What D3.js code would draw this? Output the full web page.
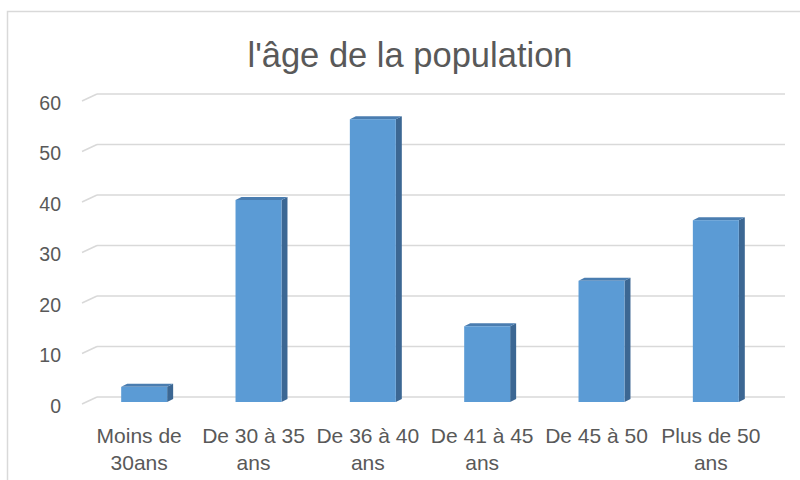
<!DOCTYPE html>
<html>
<head>
<meta charset="utf-8">
<script src="https://cdn.jsdelivr.net/npm/d3@7"></script>
<style>
  html, body { margin: 0; padding: 0; background: #fff; }
  svg { display: block; }
  text { font-family: "Liberation Sans", Arial, sans-serif; fill: #595959; }
</style>
</head>
<body>
<svg id="chart" width="800" height="480"></svg>
<script>
const title = "l'âge de la population";
const categories = ["Moins de\n30ans", "De 30 à 35\nans", "De 36 à 40\nans", "De 41 à 45\nans", "De 45 à 50", "Plus de 50\nans"];
const values = [3, 40, 56, 15, 24, 36];
const yTicks = [0, 10, 20, 30, 40, 50, 60];

const svg = d3.select("#chart");

// chart frame
svg.append("rect")
  .attr("x", 7.5).attr("y", 11.5)
  .attr("width", 800).attr("height", 480)
  .attr("fill", "#fff").attr("stroke", "#D9D9D9").attr("stroke-width", 1.5);

// title
svg.append("text")
  .attr("x", 410).attr("y", 67)
  .attr("text-anchor", "middle")
  .style("font-size", "34.5px")
  .text(title);

// scales
const y = d3.scaleLinear().domain([0, 60]).range([402, 99]);
const yBack = d3.scaleLinear().domain([0, 60]).range([397, 94]);
const x = d3.scaleBand().domain(categories).range([87, 773])
  .paddingInner(0.598).paddingOuter(0.299);

const depth = { dx: 6, dy: -3 };

// gridlines on back wall and side slants
const grid = svg.append("g");
yTicks.forEach(t => {
  grid.append("line")
    .attr("x1", 97).attr("x2", 785)
    .attr("y1", yBack(t)).attr("y2", yBack(t))
    .attr("stroke", "#D9D9D9").attr("stroke-width", 1.5);
  grid.append("line")
    .attr("x1", 82).attr("x2", 97)
    .attr("y1", yBack(t) + 7).attr("y2", yBack(t))
    .attr("stroke", "#D9D9D9").attr("stroke-width", 1.5);
});

// y axis labels
const yAxis = svg.append("g");
yTicks.forEach(t => {
  yAxis.append("text")
    .attr("x", 61).attr("y", yBack(t) + 8.5)
    .attr("text-anchor", "end")
    .attr("dominant-baseline", "central")
    .style("font-size", "19.5px")
    .text(d3.format("d")(t));
});

// bars (3D columns)
const bars = svg.append("g");
categories.forEach((c, i) => {
  const x0 = x(c), w = x.bandwidth();
  const yt = y(values[i]), yb = y(0);
  const g = bars.append("g");
  // side face
  g.append("path")
    .attr("d", `M${x0 + w},${yb} L${x0 + w + depth.dx},${yb + depth.dy} L${x0 + w + depth.dx},${yt + depth.dy} L${x0 + w},${yt} Z`)
    .attr("fill", "#3C6793");
  // top face
  g.append("path")
    .attr("d", `M${x0},${yt} L${x0 + depth.dx},${yt + depth.dy} L${x0 + w + depth.dx},${yt + depth.dy} L${x0 + w},${yt} Z`)
    .attr("fill", "#4A7DB0");
  // front face
  g.append("rect")
    .attr("x", x0).attr("y", yt)
    .attr("width", w).attr("height", yb - yt)
    .attr("fill", "#5B9BD5");
});

// category labels
const xAxis = svg.append("g");
categories.forEach(c => {
  const cx = x(c) + x.bandwidth() / 2 - 5;
  const lines = c.split("\n");
  const t = xAxis.append("text")
    .attr("text-anchor", "middle")
    .style("font-size", "21px");
  lines.forEach((ln, j) => {
    t.append("tspan").attr("x", cx).attr("y", 443 + j * 27).text(ln);
  });
});
</script>
</body>
</html>
